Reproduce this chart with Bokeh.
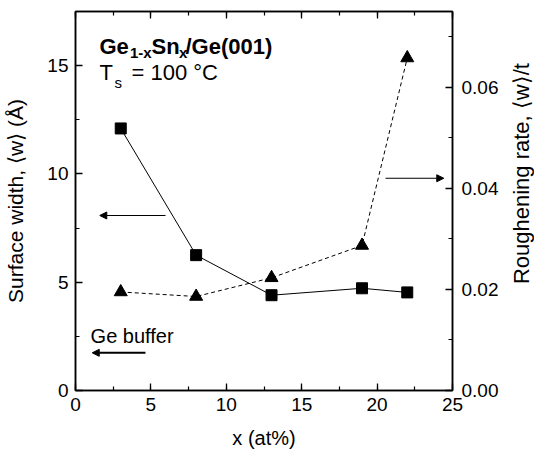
import math
from bokeh.plotting import figure
from bokeh.layouts import row
from bokeh.core.properties import value
from bokeh.models import Range1d, LinearAxis, Label, Arrow, NormalHead, FixedTicker, NumeralTickFormatter
from bokeh.embed import file_html
from bokeh.resources import INLINE

# ---- data ----
x_sn = [3, 8, 13, 19, 22]                       # Sn content x (at%)
surface_width = [12.1, 6.25, 4.4, 4.72, 4.53]   # <w> (Angstrom), left axis
rough_rate = [0.0195, 0.0186, 0.0223, 0.0287, 0.0658]  # <w>/t, right axis

x_ticks = [0, 5, 10, 15, 20, 25]
x_minor = [2.5 * i for i in range(11)]
w_ticks = [0, 5, 10, 15]
w_minor = [2.5 * i for i in range(8)]
r_ticks = [0.0, 0.02, 0.04, 0.06]
r_minor = [0.01 * i for i in range(8)]

right_title = "Roughening rate, \u27e8w\u27e9/t"

FONT = "Liberation Sans"

p = figure(width=508, height=456, x_range=Range1d(0, 25), y_range=Range1d(0, 17.5),
           output_backend="svg", toolbar_location=None,
           min_border_left=75, min_border_right=56, min_border_top=11, min_border_bottom=66)
p.extra_y_ranges = {"rate": Range1d(0, 0.075)}
p.grid.visible = False
p.outline_line_color = "black"
p.outline_line_width = 1.5
p.background_fill_color = "white"
p.border_fill_color = "white"


def style_axis(ax, ticks, minor, show_labels=True):
    ax.ticker = FixedTicker(ticks=ticks, minor_ticks=minor)
    ax.axis_line_color = "black"
    ax.axis_line_width = 1.5
    ax.major_tick_in = 7
    ax.major_tick_out = 0
    ax.minor_tick_in = 4
    ax.minor_tick_out = 0
    ax.major_tick_line_width = 1.3
    ax.minor_tick_line_width = 1.2
    ax.major_label_text_font = FONT
    ax.major_label_text_color = "black"
    ax.axis_label_text_font = FONT
    ax.axis_label_text_font_style = "normal"
    ax.axis_label_text_color = "black"
    ax.axis_label_text_font_size = "20px"
    ax.major_label_text_font_size = "19px"
    if not show_labels:
        ax.major_label_overrides = {t: "" for t in ticks}
        ax.major_label_standoff = 0


xa = p.xaxis[0]
style_axis(xa, x_ticks, x_minor)
xa.axis_label = "x (at%)"
xa.major_label_standoff = 7
xa.axis_label_standoff = 13

ya = p.yaxis[0]
style_axis(ya, w_ticks, w_minor)
ya.axis_label = "Surface width, \u27e8w\u27e9 (\u00c5)"
ya.axis_label_text_font_size = "21px"
ya.major_label_standoff = 7
ya.axis_label_standoff = 17

ra = LinearAxis(y_range_name="rate")
style_axis(ra, r_ticks, r_minor)
ra.formatter = NumeralTickFormatter(format="0.00")
ra.major_label_standoff = 9
p.add_layout(ra, "right")

ta = LinearAxis()
style_axis(ta, x_ticks, x_minor, show_labels=False)
p.add_layout(ta, "above")

# ---- data series ----
p.line(x_sn, surface_width, line_color="black", line_width=1)
p.scatter(x_sn, surface_width, marker="square", size=11, fill_color="black", line_color="black")

p.line(x_sn, rough_rate, y_range_name="rate", line_color="black", line_width=1, line_dash="4 3")
p.scatter(x_sn, rough_rate, y_range_name="rate", marker="triangle", size=13,
          fill_color="black", line_color="black")

# ---- annotations ----
def lab(x, y, text, size="22px", bold=False):
    p.add_layout(Label(x=x, y=y, text=text, text_font=FONT, text_font_size=size,
                       text_font_style="bold" if bold else "normal",
                       text_color="black", text_baseline="alphabetic", text_align="left"))

lab(1.59, 15.87, "Ge", bold=True)
lab(3.61, 15.61, "1-x", size="15px", bold=True)
lab(5.04, 15.87, "Sn", bold=True)
lab(6.86, 15.61, "x", size="15px", bold=True)
lab(7.29, 15.87, "/Ge(001)", bold=True)

lab(1.59, 14.67, "T")
lab(2.59, 14.22, "s", size="15px")
lab(3.71, 14.67, "= 100 \u00b0C")

lab(1.0, 2.51, "Ge buffer", size="20px")

arrow_specs = [
    (5.97, 8.08, 1.61, 8.08, 1.0),
    (20.56, 9.80, 24.42, 9.80, 1.0),
    (4.64, 1.74, 1.11, 1.74, 2.0),
]
for xs, ys, xe, ye, lw in arrow_specs:
    p.add_layout(Arrow(end=NormalHead(size=7, fill_color="black", line_color="black", line_width=1),
                       x_start=xs, y_start=ys, x_end=xe, y_end=ye,
                       line_color="black", line_width=lw))

# ---- right-hand axis title, reading bottom-to-top, in a narrow strip ----
q = figure(width=26, height=456, x_range=Range1d(0, 1), y_range=Range1d(0, 456),
           output_backend="svg", toolbar_location=None,
           x_axis_location=None, y_axis_location=None, min_border=0)
q.grid.visible = False
q.outline_line_color = None
q.background_fill_color = "white"
q.border_fill_color = "white"
q.text(x=[0.5], y=[261], text=[right_title], angle=math.pi / 2,
       text_align="center", text_baseline="middle", text_font=value(FONT),
       text_font_size="22px", text_color="black")

layout = row(p, q, spacing=0)
open("out.html", "w").write(file_html(layout, INLINE))
